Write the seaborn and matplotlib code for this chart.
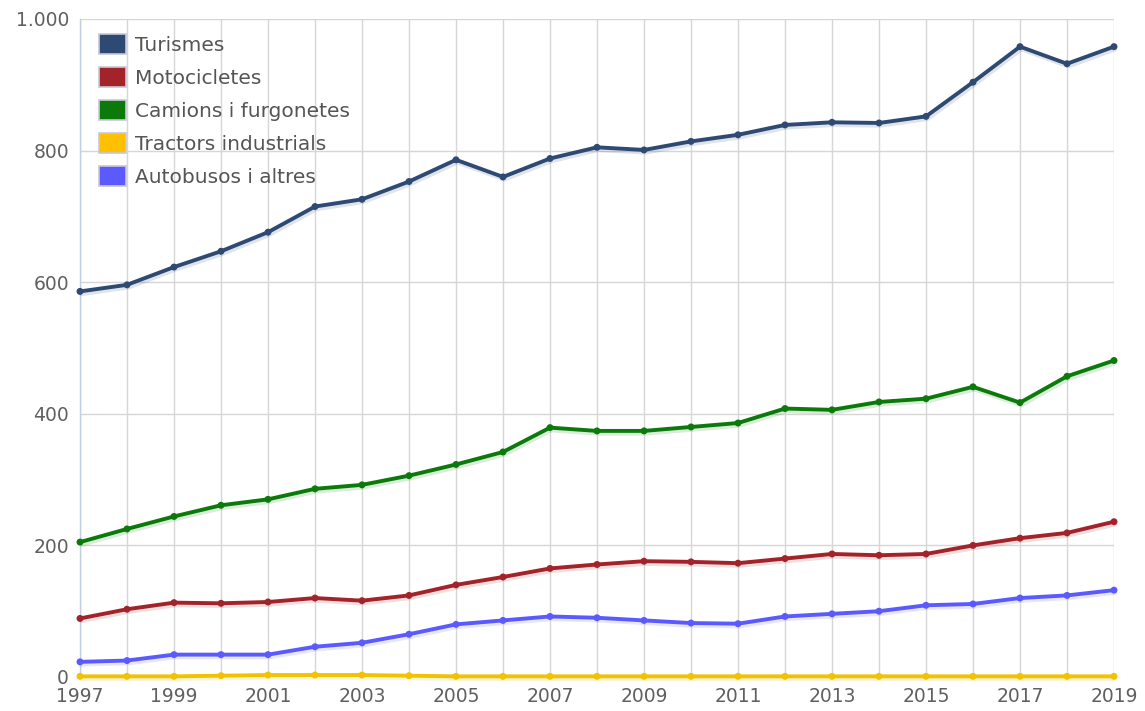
import matplotlib
matplotlib.use("Agg")
import matplotlib.pyplot as plt
import matplotlib.patheffects as pe
from matplotlib.patches import Patch
from matplotlib.ticker import FuncFormatter, MultipleLocator, FixedLocator
import pandas as pd
import seaborn as sns

years = list(range(1997, 2020))
turismes = [586, 596, 623, 647, 676, 715, 726, 753, 786, 760, 788, 805, 801,
            814, 824, 839, 843, 842, 852, 904, 958, 932, 958]
motocicletes = [89, 103, 113, 112, 114, 120, 116, 124, 140, 152, 165, 171, 176,
                175, 173, 180, 187, 185, 187, 200, 211, 219, 236]
camions = [205, 225, 244, 261, 270, 286, 292, 306, 323, 342, 379, 374, 374,
           380, 386, 408, 406, 418, 423, 441, 417, 457, 481]
tractors = [1, 1, 1, 2, 3, 3, 3, 2, 1, 1, 1, 1, 1,
            1, 1, 1, 1, 1, 1, 1, 1, 1, 1]
autobusos = [23, 25, 34, 34, 34, 46, 52, 65, 80, 86, 92, 90, 86,
             82, 81, 92, 96, 100, 109, 111, 120, 124, 132]

series = ["Turismes", "Motocicletes", "Camions i furgonetes",
          "Tractors industrials", "Autobusos i altres"]
colors = ["#2e4a72", "#a3232a", "#0b7a0b", "#f2c200", "#5a5aff"]
legend_colors = ["#2e4a72", "#a3232a", "#0b7a0b", "#ffc000", "#5a5aff"]
year_labels = years[::2]

df = pd.DataFrame({
    "any": years * 5,
    "valor": turismes + motocicletes + camions + tractors + autobusos,
    "tipus": [s for s in series for _ in years],
})

sns.set_style("white")
plt.rcParams["font.family"] = ["DejaVu Sans"]

fig = plt.figure(figsize=(11.45, 7.11), dpi=100)
ax = fig.add_axes([80 / 1145, 34 / 711, 1034 / 1145, 658 / 711])

# draw bottom series first so the top ones overlap as in the original
order = ["Tractors industrials", "Autobusos i altres", "Motocicletes",
         "Camions i furgonetes", "Turismes"]
for name in order:
    i = series.index(name)
    sub = df[df["tipus"] == name]
    sns.lineplot(data=sub, x="any", y="valor", color=colors[i], ax=ax,
                 linewidth=2.8, marker="o", markersize=5, markeredgewidth=0,
                 legend=False, zorder=3, clip_on=False,
                 path_effects=[pe.SimpleLineShadow(offset=(1, -2), alpha=0.15,
                                                   shadow_color=colors[i]),
                               pe.Normal()])

ax.set_xlim(1997, 2019)
ax.set_ylim(0, 1000)
ax.xaxis.set_major_locator(FixedLocator(year_labels))
ax.xaxis.set_minor_locator(MultipleLocator(1))
ax.yaxis.set_major_locator(MultipleLocator(200))
ax.yaxis.set_major_formatter(FuncFormatter(lambda v, p: f"{int(v):,}".replace(",", ".")))

ax.grid(True, which="both", axis="x", color="#d6d6d6", linewidth=1, zorder=0)
ax.grid(True, which="major", axis="y", color="#d6d6d6", linewidth=1, zorder=0)
ax.set_axisbelow(True)

for s in ["top", "right", "bottom"]:
    ax.spines[s].set_visible(False)
ax.spines["left"].set_color("#c0d0e0")
ax.spines["left"].set_linewidth(1)

ax.tick_params(axis="both", which="both", length=0, labelsize=13.5,
               colors="#606060")
ax.tick_params(axis="y", pad=8)
ax.tick_params(axis="x", pad=7)
# lift the y labels a touch so "0" clears the first year label
for lab in ax.get_yticklabels():
    lab.set_verticalalignment("center_baseline")
ax.set_xlabel("")
ax.set_ylabel("")

handles = [Patch(facecolor=c, edgecolor="#c8c8d8", linewidth=1.2)
           for c in legend_colors]
leg = ax.legend(handles, series, loc="upper left", frameon=False,
                fontsize=14.5, handlelength=1.3, handleheight=1.1,
                labelspacing=0.62, handletextpad=0.45,
                bbox_to_anchor=(0.007, 0.995), borderaxespad=0.2)
for t in leg.get_texts():
    t.set_color("#555555")

fig.savefig("out.png", dpi=100)
